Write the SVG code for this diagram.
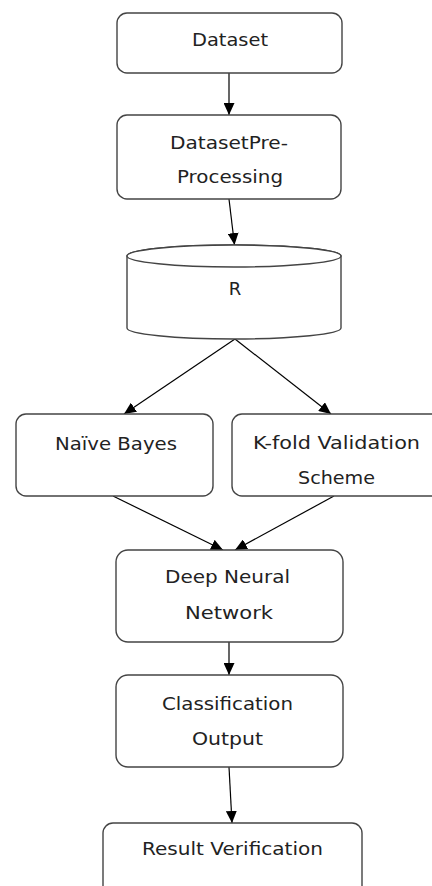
<svg xmlns="http://www.w3.org/2000/svg" width="432" height="886" viewBox="0 0 432 886">
<style>
.box{fill:#fff;stroke:#444;stroke-width:1.4}
.lbl{font-family:"DejaVu Sans","Liberation Sans",sans-serif;font-size:18px;fill:#222;text-anchor:middle}
.conn{stroke:#000;stroke-width:1.2;fill:none;marker-end:url(#ah)}
</style>
<defs>
<marker id="ah" markerUnits="userSpaceOnUse" markerWidth="12" markerHeight="11" viewBox="0 0 12 11" refX="12" refY="5.5" orient="auto">
<path d="M0,0 L12,5.5 L0,11 z" fill="#000"/>
</marker>
</defs>
<rect width="432" height="886" fill="#fff"/>
<g id="connectors">
<line class="conn" x1="229" y1="73" x2="229" y2="115"/>
<line class="conn" x1="229" y1="199" x2="234.5" y2="245"/>
<line class="conn" x1="235" y1="339" x2="124" y2="414"/>
<line class="conn" x1="235" y1="339" x2="331" y2="414"/>
<line class="conn" x1="113" y1="496" x2="223" y2="550"/>
<line class="conn" x1="334" y1="496" x2="235" y2="550"/>
<line class="conn" x1="229" y1="642" x2="229" y2="675"/>
<line class="conn" x1="229" y1="767" x2="232" y2="823"/>
</g>
<g id="dataset">
<rect class="box" x="117" y="13" width="225" height="60" rx="10"/>
<text class="lbl" x="230" y="46" textLength="76" lengthAdjust="spacingAndGlyphs">Dataset</text>
</g>
<g id="preprocessing">
<rect class="box" x="117" y="115" width="224" height="84" rx="10"/>
<text class="lbl" x="229" y="149" textLength="118" lengthAdjust="spacingAndGlyphs">DatasetPre-</text>
<text class="lbl" x="230" y="183" textLength="106" lengthAdjust="spacingAndGlyphs">Processing</text>
</g>
<g id="r">
<path class="box" d="M127,256 L127,328 A107,11 0 0 0 341,328 L341,256 A107,11 0 0 0 127,256 Z"/>
<ellipse class="box" cx="234" cy="256" rx="107" ry="11" fill="none"/>
<text class="lbl" x="235" y="295">R</text>
</g>
<g id="naive-bayes">
<rect class="box" x="16" y="414" width="197" height="82" rx="10"/>
<text class="lbl" x="116" y="450" textLength="122" lengthAdjust="spacingAndGlyphs">Naïve Bayes</text>
</g>
<g id="kfold">
<rect class="box" x="232" y="414" width="209" height="82" rx="10"/>
<text class="lbl" x="336.5" y="449" textLength="167" lengthAdjust="spacingAndGlyphs">K-fold Validation</text>
<text class="lbl" x="336.5" y="484" textLength="77" lengthAdjust="spacingAndGlyphs">Scheme</text>
</g>
<g id="dnn">
<rect class="box" x="116" y="550" width="227" height="92" rx="12"/>
<text class="lbl" x="227.5" y="583" textLength="125" lengthAdjust="spacingAndGlyphs">Deep Neural</text>
<text class="lbl" x="229" y="619" textLength="88" lengthAdjust="spacingAndGlyphs">Network</text>
</g>
<g id="classification">
<rect class="box" x="116" y="675" width="227" height="92" rx="12"/>
<text class="lbl" x="227.5" y="710" textLength="131" lengthAdjust="spacingAndGlyphs">Classification</text>
<text class="lbl" x="227.5" y="745" textLength="71" lengthAdjust="spacingAndGlyphs">Output</text>
</g>
<g id="result">
<rect class="box" x="103" y="823" width="259" height="80" rx="10"/>
<text class="lbl" x="232.5" y="855" textLength="181" lengthAdjust="spacingAndGlyphs">Result Verification</text>
</g>
</svg>
